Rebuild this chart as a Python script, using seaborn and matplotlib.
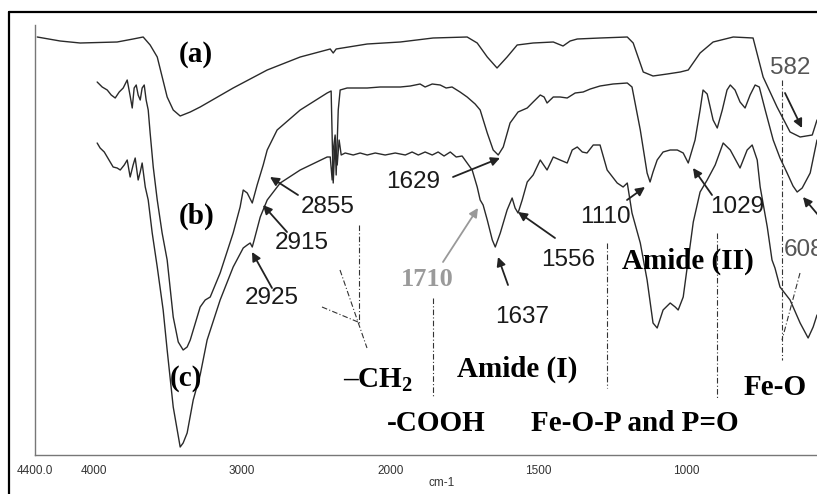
import numpy as np
import pandas as pd
import matplotlib
matplotlib.use("Agg")
import matplotlib.pyplot as plt
from matplotlib.lines import Line2D
import seaborn as sns

# ---------------- data (wavenumber cm-1, transmittance a.u.) ----------------
a_wn = [4385, 4230, 4095, 3845, 3737, 3669, 3622, 3574, 3507, 3466, 3419, 3351, 3284,
        3061, 2831, 2608, 2405, 2385, 2365, 2155, 1966, 1855, 1740, 1706, 1672, 1639,
        1605, 1571, 1517, 1449, 1416, 1392, 1368, 1291, 1199, 1179, 1145, 1112, 1064,
        1020, 993, 953, 909, 841, 774, 740, 693, 649, 615, 574, 558]
a_T = [41.8, 41.4, 41.2, 41.3, 41.6, 41.8, 41.0, 39.8, 35.8, 34.5, 33.9, 34.3, 34.8,
       36.7, 38.5, 39.8, 40.6, 40.2, 40.6, 41.1, 41.3, 41.7, 41.8, 41.2, 39.8, 38.7,
       39.8, 41.0, 41.2, 41.3, 40.9, 41.4, 41.6, 41.7, 41.8, 41.2, 38.3, 37.9, 38.1,
       38.3, 38.5, 40.2, 41.3, 41.8, 41.7, 37.8, 34.8, 32.3, 31.8, 32.0, 33.5]

b_wn = [3980, 3946, 3912, 3885, 3858, 3831, 3804, 3777, 3757, 3743, 3730, 3716, 3703,
        3689, 3676, 3662, 3649, 3635, 3622, 3601, 3574, 3541, 3507, 3466, 3432, 3399,
        3372, 3351, 3284, 3250, 3216, 3149, 3061, 3014, 2993, 2966, 2932, 2899, 2858,
        2831, 2764, 2608, 2426, 2399, 2385, 2372, 2365, 2351, 2338, 2291, 2155, 2068,
        1966, 1932, 1899, 1882, 1858, 1831, 1811, 1791, 1764, 1740, 1713, 1696, 1672,
        1652, 1635, 1618, 1595, 1568, 1537, 1517, 1493, 1480, 1470, 1449, 1426, 1402,
        1375, 1348, 1324, 1291, 1247, 1199, 1183, 1155, 1132, 1122, 1112, 1098, 1078,
        1054, 1030, 1010, 993, 970, 953, 943, 929, 909, 895, 878, 862, 851, 835, 818,
        801, 784, 767, 753, 733, 706, 683, 659, 639, 625, 608, 581, 558]
b_T = [37.3, 36.8, 36.5, 36.0, 35.7, 36.3, 36.7, 37.5, 35.9, 34.7, 36.7, 37.0, 36.0,
       35.5, 36.7, 37.0, 35.5, 34.5, 32.2, 28.8, 25.5, 22.2, 19.5, 13.8, 11.3, 10.5,
       10.8, 11.5, 14.8, 15.5, 15.8, 18.2, 22.2, 24.8, 26.5, 26.2, 25.2, 27.0, 29.0,
       30.5, 32.5, 34.5, 36.2, 36.4, 27.2, 31.5, 28.0, 34.5, 36.5, 36.7, 36.7, 36.8,
       36.8, 36.9, 37.1, 36.8, 37.1, 37.0, 36.7, 36.8, 36.3, 35.8, 35.1, 34.5, 32.2,
       30.5, 30.0, 30.8, 33.2, 34.3, 34.7, 35.3, 36.0, 35.8, 35.2, 35.8, 35.8, 35.7,
       36.2, 36.3, 36.6, 36.9, 37.1, 37.2, 36.8, 32.5, 28.2, 27.3, 28.3, 29.5, 30.3,
       30.5, 30.5, 30.2, 29.2, 31.5, 34.5, 36.5, 36.1, 33.5, 32.7, 34.5, 36.5, 37.0,
       36.5, 35.3, 34.7, 36.0, 37.0, 36.8, 34.5, 31.5, 29.7, 28.2, 26.9, 26.3, 26.7,
       28.2, 31.5]

c_wn = [3980, 3960, 3932, 3912, 3892, 3872, 3845, 3824, 3797, 3777, 3757, 3737, 3723,
        3703, 3689, 3676, 3655, 3635, 3608, 3574, 3534, 3507, 3466, 3439, 3419, 3399,
        3372, 3331, 3284, 3237, 3149, 3061, 2993, 2966, 2946, 2932, 2919, 2878, 2831,
        2743, 2608, 2426, 2405, 2392, 2385, 2372, 2358, 2345, 2331, 2304, 2250, 2203,
        2155, 2101, 2034, 1983, 1949, 1926, 1905, 1882, 1858, 1838, 1818, 1797, 1777,
        1757, 1740, 1723, 1706, 1696, 1686, 1672, 1655, 1645, 1628, 1605, 1588, 1578,
        1568, 1554, 1537, 1517, 1493, 1470, 1449, 1426, 1402, 1385, 1368, 1351, 1335,
        1314, 1291, 1267, 1233, 1213, 1199, 1183, 1155, 1132, 1112, 1098, 1078, 1054,
        1037, 1027, 1010, 976, 953, 929, 902, 875, 851, 818, 794, 777, 760, 750, 726,
        710, 700, 683, 649, 615, 588, 571, 558]
c_T = [31.2, 30.7, 30.3, 29.8, 29.3, 28.8, 28.7, 28.5, 29.0, 29.5, 27.8, 29.0, 29.7,
       27.5, 28.3, 29.2, 26.8, 25.5, 22.2, 18.8, 14.5, 10.5, 4.8, 2.5, 0.8, 1.2,
       2.2, 5.5, 8.0, 11.5, 15.5, 18.8, 20.7, 21.0, 21.2, 20.8, 21.5, 23.8, 25.5,
       27.2, 28.5, 29.8, 29.8, 27.5, 30.5, 32.0, 29.0, 31.5, 30.0, 30.2, 30.0, 30.2,
       30.0, 30.2, 30.0, 30.2, 30.0, 30.3, 30.0, 30.3, 30.0, 30.3, 29.9, 30.3, 29.8,
       29.9, 29.2, 28.5, 26.8, 25.5, 25.0, 23.5, 21.5, 20.8, 22.2, 24.5, 25.7, 24.7,
       24.2, 25.5, 27.3, 28.0, 29.5, 28.5, 29.8, 29.5, 29.2, 30.5, 30.8, 30.3, 30.2,
       31.0, 31.0, 28.5, 27.2, 26.8, 27.2, 24.2, 21.2, 17.5, 13.2, 12.7, 14.5, 15.2,
       14.8, 14.5, 15.8, 23.3, 26.3, 27.5, 29.0, 31.2, 30.5, 28.7, 30.5, 31.0, 29.5,
       26.8, 22.8, 19.5, 18.7, 16.8, 15.5, 13.2, 11.7, 12.8, 14.0]

x_ticks = [4400, 4000, 3000, 2000, 1500, 1000]
x_ticklabels = ["4400.0", "4000", "3000", "2000", "1500", "1000"]

# ---------------- style ----------------
sns.set_style("white")
plt.rcParams["font.family"] = ["Liberation Sans", "DejaVu Sans"]
plt.rcParams["mathtext.fontset"] = "custom"
plt.rcParams["mathtext.rm"] = "Liberation Serif:bold"
plt.rcParams["mathtext.it"] = "Liberation Serif:bold"
plt.rcParams["mathtext.bf"] = "Liberation Serif:bold"

W, H = 817, 494
fig = plt.figure(figsize=(W / 100, H / 100), dpi=100)
ax = fig.add_axes([35 / W, 39 / H, 782 / W, 430 / H])

df = pd.concat([
    pd.DataFrame({"wn": a_wn, "T": a_T, "sample": "a"}),
    pd.DataFrame({"wn": b_wn, "T": b_T, "sample": "b"}),
    pd.DataFrame({"wn": c_wn, "T": c_T, "sample": "c"}),
])
sns.lineplot(data=df, x="wn", y="T", hue="sample", estimator=None, sort=False,
             palette={"a": "#2a2a2a", "b": "#2a2a2a", "c": "#2a2a2a"},
             linewidth=1.0, legend=False, ax=ax)


def fwd(x):
    x = np.asarray(x, dtype=float)
    return np.where(x > 2000, 2000 + (x - 2000) / 2.0, x)


def inv(y):
    y = np.asarray(y, dtype=float)
    return np.where(y > 2000, 2000 + (y - 2000) * 2.0, y)


ax.set_xscale("function", functions=(fwd, inv))
ax.set_xlim(4400, 558)
ax.set_ylim(0, 43)
ax.set_xticks(x_ticks)
ax.set_xticklabels(x_ticklabels, family=["Liberation Sans Narrow", "Liberation Sans"])
ax.set_yticks(np.arange(0, 41, 4.45))
ax.set_yticklabels([])
ax.minorticks_off()
ax.tick_params(axis="x", direction="out", length=4, width=0.8, color="#777",
               labelsize=8.5, labelcolor="#333", pad=3)
ax.tick_params(axis="y", direction="out", length=4, width=0.8, color="#777")
ax.set_ylabel("")
ax.set_xlabel("cm-1", fontsize=8.5, color="#333",
              family=["Liberation Sans Narrow", "Liberation Sans"])
ax.xaxis.set_label_coords((442 - 35) / 782, -0.052)
sns.despine(ax=ax)
for s in ("left", "bottom"):
    ax.spines[s].set_color("#777")
    ax.spines[s].set_linewidth(1.0)


def P(x, y):
    return (x / W, 1 - y / H)


# outer frame
fig.add_artist(Line2D([9 / W, 9 / W], [0, 1 - 12 / H], transform=fig.transFigure,
                      color="black", lw=1.6))
fig.add_artist(Line2D([9 / W, 1], [1 - 12 / H, 1 - 12 / H], transform=fig.transFigure,
                      color="black", lw=1.6))

serif_b = dict(family=["Liberation Serif", "DejaVu Serif"], fontweight="bold")
sans = dict(family=["Liberation Sans", "DejaVu Sans"])

# sample labels
for s, (x, y) in [("(a)", (196, 54)), ("(b)", (197, 216)), ("(c)", (186, 379))]:
    fig.text(*P(x, y), s, ha="center", va="center", fontsize=21, color="black", **serif_b)

# group labels
groups = [("\u2013CH$_2$", (378, 380)), ("-COOH", (436, 423)), ("Amide (I)", (517, 369)),
          ("Fe-O-P and P=O", (635, 423)), ("Amide (II)", (688, 261)), ("Fe-O", (775, 387))]
for s, (x, y) in groups:
    fig.text(*P(x, y), s, ha="center", va="center", fontsize=21, color="black", **serif_b)

fig.text(*P(427, 279), "1710", ha="center", va="center", fontsize=19, color="#9a9a9a",
         **serif_b)

# peak numbers
peaks = [("2855", (328, 207), "#1a1a1a"), ("2915", (302, 243), "#1a1a1a"),
         ("2925", (272, 298), "#1a1a1a"), ("1629", (413, 182), "#1a1a1a"),
         ("1637", (522, 317), "#1a1a1a"), ("1556", (568, 260), "#1a1a1a"),
         ("1110", (605, 217), "#1a1a1a"), ("1029", (737, 207), "#1a1a1a"),
         ("582", (790, 68), "#555555")]
for s, (x, y), col in peaks:
    fig.text(*P(x, y), s, ha="center", va="center", fontsize=17.5, color=col, **sans)
fig.text(*P(784, 250), "608", ha="left", va="center", fontsize=17.5, color="#555555", **sans)

# arrows (tail -> head)
arrows = [((298, 195), (270, 177), "#222"), ((287, 232), (263, 205), "#222"),
          ((272, 288), (252, 252), "#222"), ((453, 177), (500, 158), "#222"),
          ((443, 262), (478, 208), "#999"), ((508, 285), (498, 257), "#222"),
          ((555, 238), (518, 212), "#222"), ((627, 200), (645, 187), "#222"),
          ((712, 195), (693, 168), "#222"), ((785, 93), (802, 128), "#222"),
          ((824, 222), (803, 197), "#222")]
for t, h, col in arrows:
    ax.annotate("", xy=P(*h), xycoords="figure fraction", xytext=P(*t),
                textcoords="figure fraction", annotation_clip=False,
                arrowprops=dict(arrowstyle="-|>", color=col, lw=1.3, mutation_scale=13,
                                shrinkA=0, shrinkB=0))

# dash-dot marker lines
dd = [((359, 225), (359, 323)), ((340, 270), (367, 348)), ((322, 307), (358, 322)),
      ((433, 298), (433, 398)), ((607, 243), (607, 388)), ((717, 233), (717, 398)),
      ((782, 80), (782, 360)), ((800, 273), (782, 340))]
for p1, p2 in dd:
    x1, y1 = P(*p1)
    x2, y2 = P(*p2)
    fig.add_artist(Line2D([x1, x2], [y1, y2], transform=fig.transFigure, color="#333",
                          lw=0.8, ls=(0, (5, 2, 1, 2))))

fig.savefig("out.png", dpi=100)
